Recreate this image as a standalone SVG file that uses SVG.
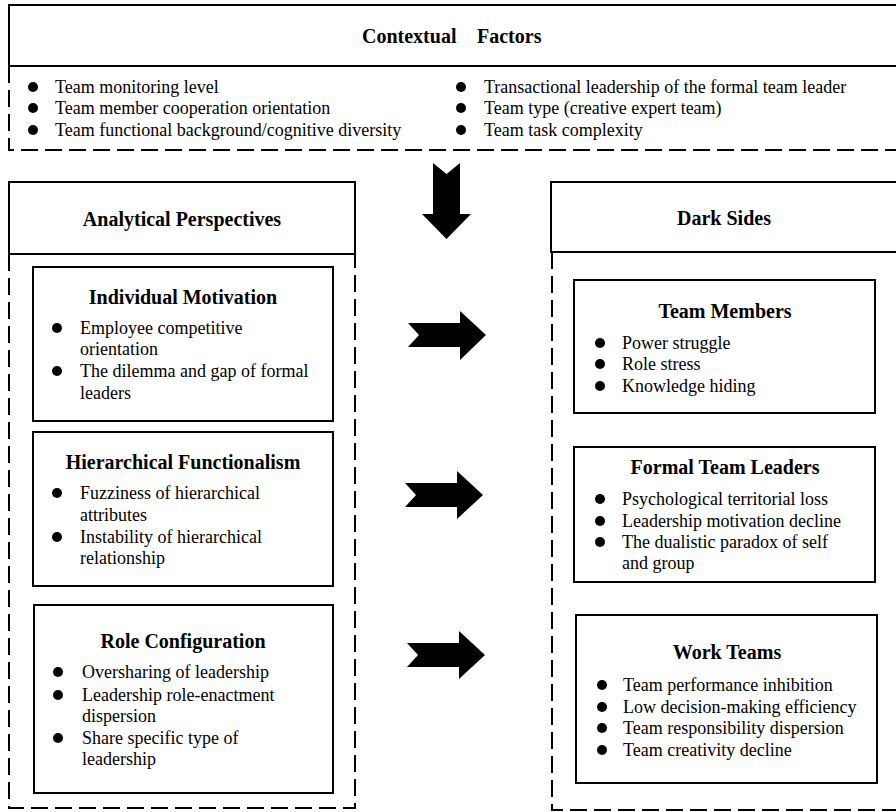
<svg xmlns="http://www.w3.org/2000/svg" width="896" height="812" viewBox="0 0 896 812">
<style>
text{font-family:"Liberation Serif","Times New Roman",serif;fill:#000}
.b{font-size:18px}
.h{font-size:20px;font-weight:bold;text-anchor:middle}
.solid{fill:none;stroke:#000;stroke-width:2}
.dash{fill:none;stroke:#000;stroke-width:2;stroke-dasharray:17 7}
.arrow{fill:#000}
circle{fill:#000}
</style>
<rect width="896" height="812" fill="#fff"/>

<g id="contextual-factors">
<rect class="solid" x="9" y="5" width="890" height="61"/>
<path class="dash" d="M9,66 V150 H900"/>
<text class="b" x="362" y="43" style="font-weight:bold;font-size:20px">Contextual</text>
<text class="b" x="477" y="43" style="font-weight:bold;font-size:20px">Factors</text>
<circle cx="33" cy="87" r="5"/><text class="b" x="55" y="93">Team monitoring level</text>
<circle cx="33" cy="108" r="5"/><text class="b" x="55" y="114">Team member cooperation orientation</text>
<circle cx="33" cy="130" r="5"/><text class="b" x="55" y="136">Team functional background/cognitive diversity</text>
<circle cx="461" cy="87" r="5"/><text class="b" x="484" y="93">Transactional leadership of the formal team leader</text>
<circle cx="461" cy="108" r="5"/><text class="b" x="484" y="114">Team type (creative expert team)</text>
<circle cx="461" cy="130" r="5"/><text class="b" x="484" y="136">Team task complexity</text>
</g>

<g id="analytical-perspectives">
<rect class="solid" x="9" y="182" width="346" height="72"/>
<path class="dash" d="M9,254 V808 H355 V254"/>
<text class="h" x="182" y="226">Analytical Perspectives</text>
</g>

<g id="individual-motivation">
<rect class="solid" x="33" y="267" width="300" height="154"/>
<text class="h" x="183" y="304">Individual  Motivation</text>
<circle cx="57" cy="328" r="5"/><text class="b" x="80" y="334">Employee competitive</text>
<text class="b" x="80" y="355">orientation</text>
<circle cx="57" cy="371" r="5"/><text class="b" x="80" y="377">The dilemma and gap of formal</text>
<text class="b" x="80" y="399">leaders</text>
</g>

<g id="hierarchical-functionalism">
<rect class="solid" x="33" y="432" width="300" height="154"/>
<text class="h" x="183" y="469">Hierarchical Functionalism</text>
<circle cx="57" cy="493" r="5"/><text class="b" x="80" y="499">Fuzziness of hierarchical</text>
<text class="b" x="80" y="521">attributes</text>
<circle cx="57" cy="537" r="5"/><text class="b" x="80" y="543">Instability of hierarchical</text>
<text class="b" x="80" y="564">relationship</text>
</g>

<g id="role-configuration">
<rect class="solid" x="34" y="605" width="299" height="188"/>
<text class="h" x="183" y="648">Role Configuration</text>
<circle cx="58" cy="672" r="5"/><text class="b" x="82" y="678">Oversharing of leadership</text>
<circle cx="58" cy="695" r="5"/><text class="b" x="82" y="701">Leadership role-enactment</text>
<text class="b" x="82" y="722">dispersion</text>
<circle cx="58" cy="738" r="5"/><text class="b" x="82" y="744">Share specific type of</text>
<text class="b" x="82" y="765">leadership</text>
</g>

<g id="dark-sides">
<rect class="solid" x="551" y="182" width="350" height="70"/>
<path class="dash" d="M552,252 V810 H900"/>
<text class="h" x="724" y="225">Dark Sides</text>
</g>

<g id="team-members">
<rect class="solid" x="574" y="280" width="301" height="133"/>
<text class="h" x="725" y="318">Team Members</text>
<circle cx="600" cy="343" r="5"/><text class="b" x="622" y="349">Power struggle</text>
<circle cx="600" cy="364" r="5"/><text class="b" x="622" y="370">Role stress</text>
<circle cx="600" cy="386" r="5"/><text class="b" x="622" y="392">Knowledge hiding</text>
</g>

<g id="formal-team-leaders">
<rect class="solid" x="574" y="447" width="301" height="135"/>
<text class="h" x="725" y="474">Formal Team Leaders</text>
<circle cx="600" cy="499" r="5"/><text class="b" x="622" y="505">Psychological territorial loss</text>
<circle cx="600" cy="521" r="5"/><text class="b" x="622" y="527">Leadership motivation decline</text>
<circle cx="600" cy="542" r="5"/><text class="b" x="622" y="548">The dualistic paradox of self</text>
<text class="b" x="622" y="569">and group</text>
</g>

<g id="work-teams">
<rect class="solid" x="576" y="615" width="301" height="168"/>
<text class="h" x="727" y="659">Work Teams</text>
<circle cx="602" cy="685" r="5"/><text class="b" x="623" y="691">Team performance inhibition</text>
<circle cx="602" cy="707" r="5"/><text class="b" x="623" y="713">Low decision-making efficiency</text>
<circle cx="602" cy="728" r="5"/><text class="b" x="623" y="734">Team responsibility dispersion</text>
<circle cx="602" cy="750" r="5"/><text class="b" x="623" y="756">Team creativity decline</text>
</g>

<g id="connectors">
<polygon class="arrow" points="433,163 446.5,174 460,163 460,214 471,214 446.5,239 422,214 433,214"/>
<polygon class="arrow" points="408,323 460,323 460,311 486,335 460,360 460,347 408,347 419,335"/>
<polygon class="arrow" points="405,483 457,483 457,471 483,495 457,519 457,507 405,507 416,495"/>
<polygon class="arrow" points="407,643 459,643 459,631 485,655 459,679 459,667 407,667 418,655"/>
</g>
</svg>
